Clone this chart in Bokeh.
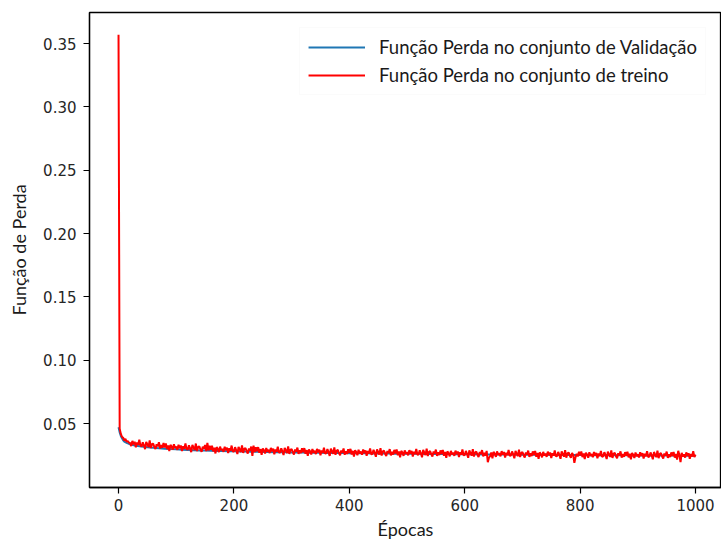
from bokeh.plotting import figure
from bokeh.models import Range1d, Legend, LegendItem, FixedTicker, PrintfTickFormatter
from bokeh.embed import file_html
from bokeh.resources import INLINE

# ---- data (loss values in units of 1e-4) ----
train_epochs = list(range(0, 1001, 2))
train_loss_e4 = [
    3570, 460, 418, 395, 388, 366, 380, 356, 362, 349,
    347, 322, 363, 335, 356, 313, 351, 331, 372, 326,
    319, 352, 328, 298, 355, 335, 314, 366, 307, 339,
    341, 316, 298, 337, 321, 352, 303, 330, 309, 346,
    311, 343, 298, 327, 282, 332, 318, 293, 336, 307,
    317, 292, 333, 305, 326, 283, 321, 301, 342, 296,
    295, 328, 304, 274, 331, 311, 290, 342, 283, 315,
    320, 295, 277, 316, 300, 331, 282, 348, 288, 325,
    293, 325, 280, 309, 264, 314, 300, 275, 318, 289,
    301, 276, 317, 289, 310, 267, 305, 285, 326, 280,
    280, 313, 289, 259, 316, 296, 275, 327, 268, 300,
    307, 282, 264, 303, 287, 318, 245, 325, 275, 312,
    282, 314, 269, 298, 253, 303, 289, 264, 307, 278,
    292, 267, 308, 280, 301, 258, 296, 276, 317, 271,
    272, 305, 281, 251, 308, 288, 267, 319, 260, 292,
    299, 274, 256, 295, 279, 310, 261, 288, 267, 304,
    274, 306, 261, 290, 245, 295, 281, 256, 299, 270,
    284, 259, 300, 272, 293, 250, 288, 268, 309, 263,
    265, 298, 274, 244, 301, 281, 260, 312, 253, 285,
    292, 267, 249, 288, 272, 303, 254, 281, 260, 297,
    268, 300, 255, 284, 239, 289, 275, 250, 293, 264,
    279, 254, 295, 267, 288, 245, 283, 263, 304, 258,
    259, 292, 268, 238, 295, 275, 254, 306, 247, 279,
    287, 262, 244, 283, 267, 298, 249, 276, 255, 292,
    263, 295, 250, 279, 234, 284, 270, 245, 288, 259,
    274, 249, 290, 262, 283, 240, 278, 258, 299, 253,
    255, 288, 264, 234, 291, 271, 250, 302, 243, 275,
    283, 258, 240, 279, 263, 294, 245, 272, 251, 288,
    259, 291, 246, 275, 230, 280, 266, 241, 284, 255,
    270, 245, 286, 258, 279, 236, 274, 254, 295, 249,
    251, 284, 260, 230, 287, 267, 246, 298, 239, 271,
    279, 254, 236, 275, 259, 290, 241, 268, 247, 284,
    195, 230, 242, 271, 226, 276, 262, 237, 280, 251,
    266, 241, 282, 254, 275, 232, 270, 250, 291, 245,
    247, 280, 256, 226, 283, 263, 242, 294, 235, 267,
    275, 250, 232, 271, 255, 286, 237, 264, 243, 280,
    251, 283, 238, 267, 222, 272, 258, 233, 276, 247,
    262, 237, 278, 250, 271, 228, 266, 246, 287, 241,
    243, 276, 252, 222, 279, 259, 238, 290, 231, 263,
    272, 247, 229, 268, 252, 190, 234, 261, 240, 277,
    248, 280, 235, 264, 219, 269, 255, 230, 273, 244,
    259, 234, 275, 247, 268, 225, 263, 243, 284, 238,
    241, 274, 250, 220, 277, 257, 236, 288, 229, 261,
    269, 244, 226, 265, 249, 280, 231, 258, 237, 274,
    246, 278, 233, 262, 217, 267, 253, 228, 271, 242,
    257, 232, 273, 245, 266, 223, 261, 241, 282, 236,
    239, 272, 248, 218, 275, 255, 234, 286, 227, 259,
    267, 242, 224, 263, 247, 278, 229, 256, 235, 272,
    244, 276, 231, 260, 215, 285, 251, 195, 269, 240,
    256, 231, 272, 244, 265, 222, 260, 240, 281, 235,
    255,
]
val_epochs = [0, 2, 4, 6, 8, 10, 15, 20] + list(range(30, 1001, 10))
val_loss_e4 = [
    470, 430, 402, 383, 368, 358, 345, 336,
    325, 318, 312, 308, 304, 301, 298, 296, 294, 292,
    290, 288, 287, 285, 284, 283, 282, 281,
    280, 279, 278, 277, 276, 275, 274, 274, 273, 272,
    272, 271, 270, 270, 269, 268, 268, 267, 267, 266,
    266, 265, 265, 264, 264, 263, 263, 262, 262, 261,
    261, 261, 260, 260, 259, 259, 259, 258, 258, 257,
    257, 257, 256, 256, 256, 255, 255, 255, 254, 254,
    254, 253, 253, 253, 252, 252, 252, 251, 251, 251,
    251, 250, 250, 250, 249, 249, 249, 249, 248, 248,
    248, 248, 247, 247, 247, 247, 246, 246, 246, 246,
]
train_loss = [v / 1e4 for v in train_loss_e4]
val_loss = [v / 1e4 for v in val_loss_e4]

x_ticks = [0, 200, 400, 600, 800, 1000]
y_ticks = [0.05, 0.10, 0.15, 0.20, 0.25, 0.30, 0.35]

label_val = "Função Perda no conjunto de Validação"
label_train = "Função Perda no conjunto de treino"

# ---- figure ----
p = figure(width=721, height=545, output_backend="svg", toolbar_location=None,
           x_range=Range1d(-50.3, 1045), y_range=Range1d(-0.0005, 0.3745),
           min_border_left=89, min_border_right=0, min_border_top=12, min_border_bottom=58)
p.background_fill_color = "white"
p.border_fill_color = "white"
p.outline_line_color = "black"
p.outline_line_width = 1.3
p.xgrid.visible = False
p.ygrid.visible = False

r_val = p.line(val_epochs, val_loss, line_color="#1f77b4", line_width=2)
r_train = p.line(train_epochs, train_loss, line_color="#ff0000", line_width=2)

for ax in (p.xaxis[0], p.yaxis[0]):
    ax.axis_line_color = "black"
    ax.axis_line_width = 1.3
    ax.major_tick_out = 6
    ax.major_tick_in = 0
    ax.major_tick_line_color = "black"
    ax.major_tick_line_width = 1.2
    ax.minor_tick_out = 0
    ax.minor_tick_in = 0
    ax.major_label_text_font = "DejaVu Sans"
    ax.major_label_text_font_size = "15px"
    ax.major_label_text_color = "#262626"
    ax.axis_label_text_font = "Lato"
    ax.axis_label_text_font_size = "18px"
    ax.axis_label_text_font_style = "normal"
    ax.axis_label_text_color = "#1a1a1a"

p.xaxis[0].ticker = FixedTicker(ticks=x_ticks)
p.yaxis[0].ticker = FixedTicker(ticks=y_ticks)
p.yaxis[0].formatter = PrintfTickFormatter(format="%.2f")
p.xaxis[0].axis_label = "Épocas"
p.yaxis[0].axis_label = "Função de Perda"
p.xaxis[0].major_label_standoff = 5
p.yaxis[0].major_label_standoff = 7
p.xaxis[0].axis_label_standoff = 4
p.yaxis[0].axis_label_standoff = 10

legend = Legend(items=[LegendItem(label=label_val, renderers=[r_val]),
                       LegendItem(label=label_train, renderers=[r_train])],
                location="top_right")
legend.margin = 15
legend.padding = 8
legend.spacing = 6
legend.glyph_width = 57
legend.glyph_height = 20
legend.label_height = 20
legend.label_standoff = 14
legend.label_text_font = "Lato"
legend.label_text_font_size = "18.5px"
legend.label_text_color = "#1a1a1a"
legend.border_line_color = "#f7f7f7"
legend.background_fill_alpha = 1.0
p.add_layout(legend)

open("out.html", "w").write(file_html(p, INLINE))
